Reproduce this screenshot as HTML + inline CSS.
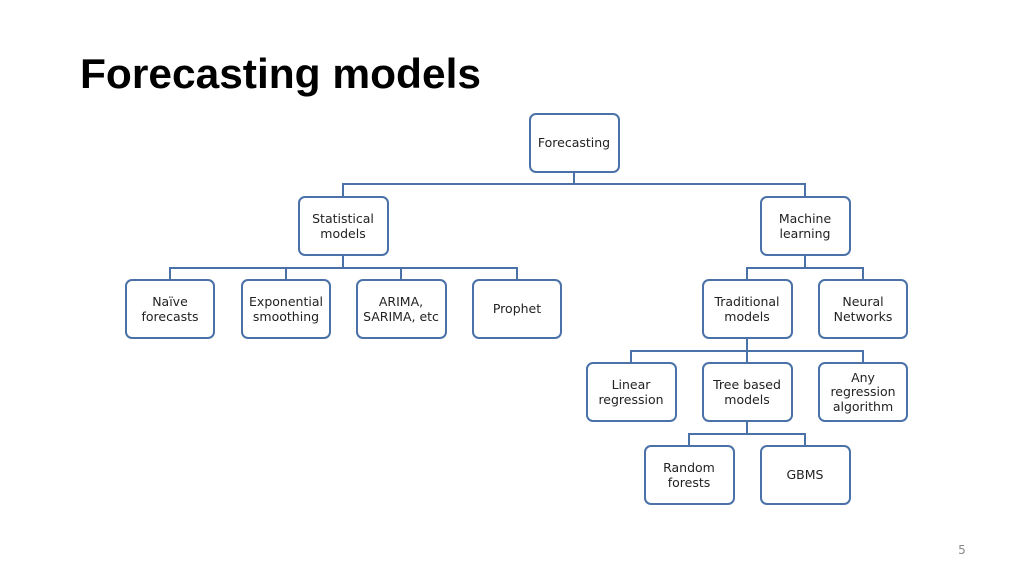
<!DOCTYPE html>
<html><head><meta charset="utf-8"><style>
html,body{margin:0;padding:0;background:#fff}
svg{display:block}
text{font-family:"DejaVu Sans","Liberation Sans",sans-serif;font-size:12.5px;fill:#222}
</style></head><body>
<svg width="1024" height="576" viewBox="0 0 1024 576" xmlns="http://www.w3.org/2000/svg">
<text x="80" y="88" style="font-family:'Liberation Sans',sans-serif;font-weight:bold;font-size:42px;fill:#000" textLength="401" lengthAdjust="spacingAndGlyphs">Forecasting models</text>
<g stroke="#4a72a8" stroke-width="2" fill="none">
<path d="M574 172V184M343 197V184H805V197"/>
<path d="M343 255V268M170 280V268H517V280M286 268V280M401 268V280"/>
<path d="M805 255V268M747 280V268H863V280"/>
<path d="M747 338V351M631 363V351H863V363M747 351V363"/>
<path d="M747 421V434M689 446V434H805V446"/>
<g fill="#fff">
<rect x="530" y="114" width="89" height="58" rx="6"/>
<rect x="299" y="197" width="89" height="58" rx="6"/>
<rect x="761" y="197" width="89" height="58" rx="6"/>
<rect x="126" y="280" width="88" height="58" rx="6"/>
<rect x="242" y="280" width="88" height="58" rx="6"/>
<rect x="357" y="280" width="89" height="58" rx="6"/>
<rect x="473" y="280" width="88" height="58" rx="6"/>
<rect x="703" y="280" width="89" height="58" rx="6"/>
<rect x="819" y="280" width="88" height="58" rx="6"/>
<rect x="587" y="363" width="89" height="58" rx="6"/>
<rect x="703" y="363" width="89" height="58" rx="6"/>
<rect x="819" y="363" width="88" height="58" rx="6"/>
<rect x="645" y="446" width="89" height="58" rx="6"/>
<rect x="761" y="446" width="89" height="58" rx="6"/>
</g></g>
<g text-anchor="middle">
<text x="574" y="147">Forecasting</text>
<text x="343" y="223">Statistical</text><text x="343" y="238">models</text>
<text x="805" y="223">Machine</text><text x="805" y="238">learning</text>
<text x="170" y="306">Naïve</text><text x="170" y="321">forecasts</text>
<text x="286" y="306">Exponential</text><text x="286" y="321">smoothing</text>
<text x="401" y="306">ARIMA,</text><text x="401" y="321">SARIMA, etc</text>
<text x="517" y="313">Prophet</text>
<text x="747" y="306">Traditional</text><text x="747" y="321">models</text>
<text x="863" y="306">Neural</text><text x="863" y="321">Networks</text>
<text x="631" y="389">Linear</text><text x="631" y="404">regression</text>
<text x="747" y="389">Tree based</text><text x="747" y="404">models</text>
<text x="863" y="382">Any</text><text x="863" y="396">regression</text><text x="863" y="411">algorithm</text>
<text x="689" y="472">Random</text><text x="689" y="487">forests</text>
<text x="805" y="479">GBMS</text>
</g>
<text x="962" y="554" text-anchor="middle" style="font-size:12px;fill:#8a8a8a">5</text>
</svg>
</body></html>
